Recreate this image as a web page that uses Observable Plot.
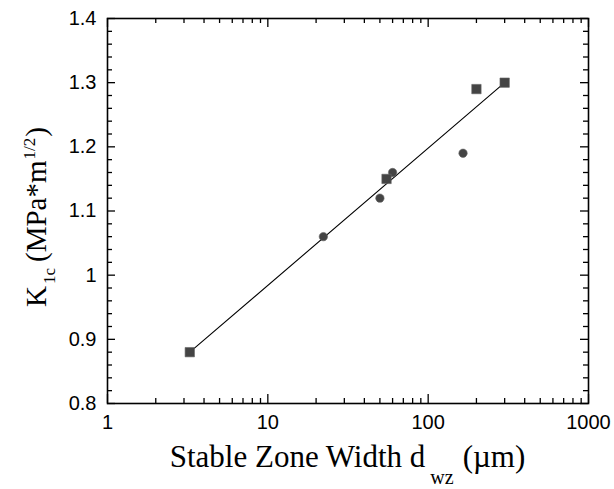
<!DOCTYPE html>
<html>
<head>
<meta charset="utf-8">
<script src="https://cdn.jsdelivr.net/npm/d3@7"></script>
<script src="https://cdn.jsdelivr.net/npm/@observablehq/plot@0.6"></script>
<style>
  body { margin: 0; background: #fff; }
</style>
</head>
<body>
<div id="chart"></div>
<script>
// Fracture toughness K1c against stable zone width (log scale)
const squareWidth = [3.26, 55, 200, 300];
const squareK = [0.88, 1.15, 1.29, 1.30];
const circleWidth = [22.2, 50, 60, 165];
const circleK = [1.06, 1.12, 1.16, 1.19];
const fitWidth = [3.26, 300];
const fitK = [0.88, 1.30];

const xMajorTicks = [1, 10, 100, 1000];
const yMajorTicks = [0.8, 0.9, 1.0, 1.1, 1.2, 1.3, 1.4];
const yTickLabels = ["0.8", "0.9", "1", "1.1", "1.2", "1.3", "1.4"];

// minor ticks: 2..9 within each decade, every 0.02 on the y axis
const xMinorTicks = xMajorTicks.slice(0, -1).flatMap(d => d3.range(2, 10).map(m => m * d));
const yMinorTicks = d3.range(40, 71).map(i => i / 50).filter(v => Math.abs(v * 10 - Math.round(v * 10)) > 1e-6);

const W = 614, H = 489;
const mL = 107, mR = 26, mT = 18, mB = 86;
const innerW = W - mL - mR, innerH = H - mT - mB;

const squares = squareWidth.map((w, i) => ({w, k: squareK[i]}));
const circles = circleWidth.map((w, i) => ({w, k: circleK[i]}));
const fit = fitWidth.map((w, i) => ({w, k: fitK[i]}));

const markFill = "#444";

const chart = Plot.plot({
  width: W,
  height: H,
  marginLeft: mL,
  marginRight: mR,
  marginTop: mT,
  marginBottom: mB,
  style: {fontFamily: "Liberation Sans, Arial, sans-serif", fontSize: "20px", background: "#fff", color: "#000"},
  x: {type: "log", domain: [1, 1000]},
  y: {domain: [0.8, 1.4]},
  marks: [
    Plot.axisX({ticks: xMajorTicks, tickSize: 0, tickPadding: 11, tickFormat: d => String(d), label: null, fontSize: 20}),
    Plot.axisY({ticks: yMajorTicks, tickSize: 0, tickPadding: 11, tickFormat: (d, i) => yTickLabels[i], label: null, fontSize: 20}),
    // inward ticks on all four sides
    Plot.tickX(xMajorTicks, {x: d => d, insetTop: innerH - 9, stroke: "#000", strokeWidth: 1.3}),
    Plot.tickX(xMinorTicks, {x: d => d, insetTop: innerH - 5, stroke: "#000", strokeWidth: 1.3}),
    Plot.tickX(xMajorTicks, {x: d => d, insetBottom: innerH - 9, stroke: "#000", strokeWidth: 1.3}),
    Plot.tickX(xMinorTicks, {x: d => d, insetBottom: innerH - 5, stroke: "#000", strokeWidth: 1.3}),
    Plot.tickY(yMajorTicks, {y: d => d, insetRight: innerW - 8, stroke: "#000", strokeWidth: 1.3}),
    Plot.tickY(yMinorTicks, {y: d => d, insetRight: innerW - 5, stroke: "#000", strokeWidth: 1.3}),
    Plot.tickY(yMajorTicks, {y: d => d, insetLeft: innerW - 8, stroke: "#000", strokeWidth: 1.3}),
    Plot.tickY(yMinorTicks, {y: d => d, insetLeft: innerW - 5, stroke: "#000", strokeWidth: 1.3}),
    Plot.frame({stroke: "#000", strokeWidth: 1.6}),
    Plot.line(fit, {x: "w", y: "k", stroke: "#000", strokeWidth: 1.1}),
    Plot.dot(circles, {x: "w", y: "k", symbol: "circle", r: 4.2, fill: markFill, stroke: "#666", strokeWidth: 0.6}),
    Plot.dot(squares, {x: "w", y: "k", symbol: "square", r: 5.3, fill: markFill, stroke: "#666", strokeWidth: 0.6})
  ]
});

const svg = d3.select(chart);

// y axis title: K_1c (MPa*m^1/2)
const yTitle = svg.append("text")
  .attr("transform", `translate(46,217) rotate(-90)`)
  .attr("text-anchor", "middle")
  .attr("fill", "#000")
  .style("font-family", "Liberation Serif, 'Times New Roman', serif")
  .style("font-size", "29px");
yTitle.append("tspan").text("K");
yTitle.append("tspan").attr("dx", 2).attr("dy", 9).style("font-size", "17px").text("1c");
yTitle.append("tspan").attr("dx", 6).attr("dy", -9).text("(MPa*m");
yTitle.append("tspan").attr("dx", 1).attr("dy", -11).style("font-size", "17px").text("1/2");
yTitle.append("tspan").attr("dx", 1).attr("dy", 11).text(")");

// x axis title: Stable Zone Width d_wz (µm)
const xTitle = svg.append("text")
  .attr("transform", `translate(${mL + innerW / 2},467)`)
  .attr("text-anchor", "middle")
  .attr("fill", "#000")
  .style("font-family", "Liberation Serif, 'Times New Roman', serif")
  .style("font-size", "31px");
xTitle.append("tspan").text("Stable Zone Width d");
xTitle.append("tspan").attr("dx", 5).attr("dy", 17).style("font-size", "20px").text("wz");
xTitle.append("tspan").attr("dx", 9).attr("dy", -17).text("(\u00b5m)");

document.getElementById("chart").append(chart);
</script>
</body>
</html>
